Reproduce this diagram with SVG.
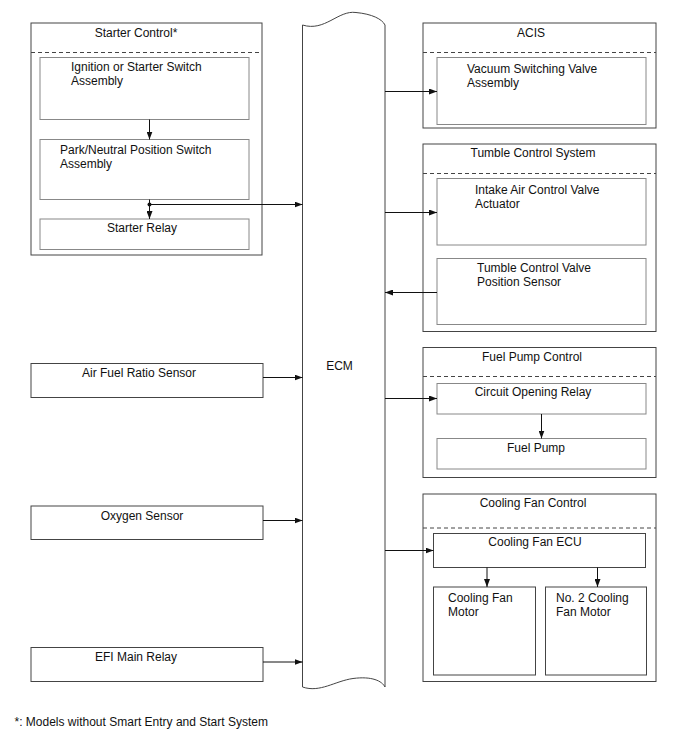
<svg xmlns="http://www.w3.org/2000/svg" width="688" height="755" viewBox="0 0 688 755">
<defs>
<marker id="ah" markerWidth="8" markerHeight="6" refX="8" refY="3" orient="auto" markerUnits="userSpaceOnUse">
<path d="M0,0 L8,3 L0,6 Z" fill="#111"/>
</marker>
</defs>
<style>
text{font-family:"Liberation Sans",Arial,sans-serif;font-size:12px;fill:#111}
.c{text-anchor:middle}
.outer{fill:#fff;stroke:#444;stroke-width:1}
.inner{fill:#fff;stroke:#888;stroke-width:1}
.dash{stroke:#444;stroke-width:1;stroke-dasharray:4 3;fill:none}
.ln{stroke:#111;stroke-width:1;fill:none}
.ecm{fill:#fff;stroke:#444;stroke-width:1}
</style>
<rect width="688" height="755" fill="#fff"/>

<g id="starter-control">
<rect class="outer" x="31" y="23" width="231" height="232"/>
<text class="c" x="136" y="36.5">Starter Control*</text>
<line class="dash" x1="31" y1="52.5" x2="262" y2="52.5"/>
</g>
<g id="ignition-switch">
<rect class="inner" x="40" y="57.5" width="209" height="62"/>
<text x="71" y="71">Ignition or Starter Switch</text>
<text x="71" y="85">Assembly</text>
</g>
<g id="pn-switch">
<rect class="inner" x="40" y="139.5" width="209" height="60"/>
<text x="60" y="154">Park/Neutral Position Switch</text>
<text x="60" y="168">Assembly</text>
</g>
<g id="starter-relay">
<rect class="inner" x="40" y="219" width="209" height="30.5"/>
<text class="c" x="142" y="231.5">Starter Relay</text>
</g>

<g id="air-fuel">
<rect class="outer" x="31" y="363.5" width="232" height="34"/>
<text class="c" x="139" y="377">Air Fuel Ratio Sensor</text>
</g>
<g id="oxygen">
<rect class="outer" x="31" y="506" width="232" height="33.5"/>
<text class="c" x="142" y="519.5">Oxygen Sensor</text>
</g>
<g id="efi-relay">
<rect class="outer" x="31" y="647.5" width="232" height="34"/>
<text class="c" x="136" y="660.5">EFI Main Relay</text>
</g>

<g id="ecm">
<path class="ecm" d="M302.5,687 L302.5,25 C325,32 338,10 356,12.5 C372,14 382,19 385,25 L385,687 C382,681 372,676 353,678.5 C335,681 320,693 302.5,687 Z"/>
<text class="c" x="339.5" y="370">ECM</text>
</g>

<g id="acis">
<rect class="outer" x="423" y="23" width="233" height="105"/>
<text class="c" x="531" y="37">ACIS</text>
<line class="dash" x1="423" y1="52.5" x2="656" y2="52.5"/>
</g>
<g id="vsv">
<rect class="inner" x="437" y="57.5" width="209" height="67"/>
<text x="467" y="73">Vacuum Switching Valve</text>
<text x="467" y="87">Assembly</text>
</g>

<g id="tumble">
<rect class="outer" x="423" y="144" width="233" height="187.5"/>
<text class="c" x="533" y="157">Tumble Control System</text>
<line class="dash" x1="423" y1="173.5" x2="656" y2="173.5"/>
</g>
<g id="intake-actuator">
<rect class="inner" x="437" y="178.5" width="209" height="66.5"/>
<text x="475" y="194">Intake Air Control Valve</text>
<text x="475" y="208">Actuator</text>
</g>
<g id="tumble-sensor">
<rect class="inner" x="437" y="258.5" width="209" height="66"/>
<text x="477" y="272">Tumble Control Valve</text>
<text x="477" y="286">Position Sensor</text>
</g>

<g id="fuel-pump-control">
<rect class="outer" x="423" y="347.5" width="233" height="130"/>
<text class="c" x="532" y="360.5">Fuel Pump Control</text>
<line class="dash" x1="423" y1="376.5" x2="656" y2="376.5"/>
</g>
<g id="circuit-opening-relay">
<rect class="inner" x="437" y="383.5" width="209" height="30.5"/>
<text class="c" x="533" y="395.5">Circuit Opening Relay</text>
</g>
<g id="fuel-pump">
<rect class="inner" x="437" y="438.5" width="209" height="30.5"/>
<text class="c" x="536" y="452">Fuel Pump</text>
</g>

<g id="cooling-fan-control">
<rect class="outer" x="423" y="494" width="233" height="187.5"/>
<text class="c" x="533" y="507">Cooling Fan Control</text>
<line class="dash" x1="423" y1="528" x2="656" y2="528"/>
</g>
<g id="cooling-fan-ecu">
<rect class="outer" x="433.5" y="533.5" width="212" height="34"/>
<text class="c" x="535" y="546">Cooling Fan ECU</text>
</g>
<g id="fan-motor-1">
<rect class="outer" x="433.5" y="587" width="102" height="88"/>
<text x="448" y="602">Cooling Fan</text>
<text x="448" y="616">Motor</text>
</g>
<g id="fan-motor-2">
<rect class="outer" x="545.5" y="587" width="101" height="88"/>
<text x="556" y="602">No. 2 Cooling</text>
<text x="556" y="616">Fan Motor</text>
</g>

<text x="14.5" y="725.5">*: Models without Smart Entry and Start System</text>

<g id="connectors">
<line class="ln" x1="149.5" y1="119.5" x2="149.5" y2="139.5" marker-end="url(#ah)"/>
<line class="ln" x1="149.5" y1="199.5" x2="149.5" y2="219" marker-end="url(#ah)"/>
<circle cx="149.5" cy="204.5" r="2" fill="#111"/>
<line class="ln" x1="149.5" y1="204.5" x2="302.5" y2="204.5" marker-end="url(#ah)"/>
<line class="ln" x1="263" y1="377.5" x2="302.5" y2="377.5" marker-end="url(#ah)"/>
<line class="ln" x1="263" y1="520.5" x2="302.5" y2="520.5" marker-end="url(#ah)"/>
<line class="ln" x1="263" y1="662" x2="302.5" y2="662" marker-end="url(#ah)"/>
<line class="ln" x1="385" y1="91.5" x2="437" y2="91.5" marker-end="url(#ah)"/>
<line class="ln" x1="385" y1="212.5" x2="437" y2="212.5" marker-end="url(#ah)"/>
<line class="ln" x1="437" y1="292.5" x2="385" y2="292.5" marker-end="url(#ah)"/>
<line class="ln" x1="385" y1="398.5" x2="437" y2="398.5" marker-end="url(#ah)"/>
<line class="ln" x1="541.5" y1="414" x2="541.5" y2="438.5" marker-end="url(#ah)"/>
<line class="ln" x1="385" y1="550.5" x2="433.5" y2="550.5" stroke-width="0.7" marker-end="url(#ah)"/>
<line class="ln" x1="487" y1="567.5" x2="487" y2="587" marker-end="url(#ah)"/>
<line class="ln" x1="597.5" y1="567.5" x2="597.5" y2="587" marker-end="url(#ah)"/>
</g>
</svg>
